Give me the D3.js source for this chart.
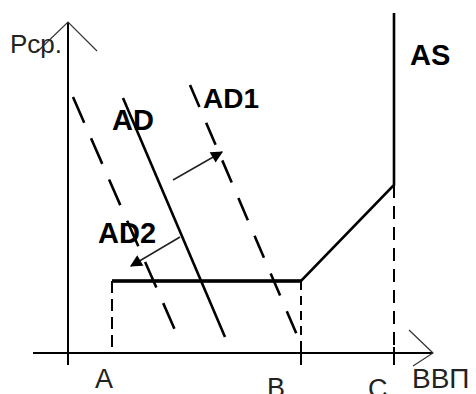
<!DOCTYPE html>
<html>
<head>
<meta charset="utf-8">
<script src="https://cdn.jsdelivr.net/npm/d3@7"></script>
<style>
  body { margin: 0; background: #fff; }
  text { font-family: "Liberation Sans", Arial, sans-serif; }
</style>
</head>
<body>
<svg width="476" height="394"></svg>
<script>
// values, in chart units (origin at the axes crossing)
const xTickNames = ["A", "B", "C"]
const xTickValues = [44, 233, 326]
const priceLevel = 72      // flat part of AS
const kinkPrice = 168      // where AS turns vertical at C
const asTop = 340

const asCurve = [[44, 72], [233, 72], [326, 168], [326, 340]]
const ad = [[55, 255], [157, 16]]
const ad1 = [[122, 268], [229, 18]]
const ad2 = [[5, 256], [110, 16]]
const shiftRight = [[105, 173], [154, 201]]
const shiftLeft = [[112, 116], [63, 87]]

let svg = d3.select("svg")

let x = d3.scaleLinear().domain([0, 365]).range([68, 433])
let y = d3.scaleLinear().domain([0, 340]).range([353, 13])

let line = d3.line().x(d => x(d[0])).y(d => y(d[1]))

svg.append("defs").append("marker")
    .attr("id", "head")
    .attr("viewBox", "0 0 10 10")
    .attr("refX", 9).attr("refY", 5)
    .attr("markerWidth", 15).attr("markerHeight", 12)
    .attr("markerUnits", "userSpaceOnUse")
    .attr("orient", "auto")
    .append("path")
    .attr("d", "M0,0 L10,5 L0,10 z")
    .attr("fill", "#000")

// axes
svg.append("line")
    .attr("x1", x(0)).attr("x2", x(0))
    .attr("y1", y(-12)).attr("y2", y(331))
    .attr("stroke", "#000").attr("stroke-width", 2)
svg.append("line")
    .attr("x1", x(-35)).attr("x2", x(365))
    .attr("y1", y(0)).attr("y2", y(0))
    .attr("stroke", "#000").attr("stroke-width", 2)

// axis arrow arms
svg.append("path")
    .attr("d", line([[-31, 301], [0, 331], [29, 302]]))
    .attr("fill", "none").attr("stroke", "#333").attr("stroke-width", 1.2)
svg.append("path")
    .attr("d", line([[341, 23], [365, 0], [345, -13]]))
    .attr("fill", "none").attr("stroke", "#333").attr("stroke-width", 1.2)

// dashed guides
svg.append("line")
    .attr("x1", x(xTickValues[0])).attr("x2", x(xTickValues[0]))
    .attr("y1", y(priceLevel)).attr("y2", y(0))
    .attr("stroke", "#000").attr("stroke-width", 2)
    .attr("stroke-dasharray", "12,6")
svg.append("line")
    .attr("x1", x(xTickValues[1])).attr("x2", x(xTickValues[1]))
    .attr("y1", y(priceLevel)).attr("y2", y(-12))
    .attr("stroke", "#000").attr("stroke-width", 2)
    .attr("stroke-dasharray", "9,6")
svg.append("line")
    .attr("x1", x(xTickValues[2])).attr("x2", x(xTickValues[2]))
    .attr("y1", y(kinkPrice)).attr("y2", y(-12))
    .attr("stroke", "#000").attr("stroke-width", 2)
    .attr("stroke-dasharray", "13,8")

// AS
svg.append("path")
    .attr("d", line(asCurve))
    .attr("fill", "none").attr("stroke", "#000").attr("stroke-width", 2.6)
svg.append("line")
    .attr("x1", x(asCurve[0][0])).attr("x2", x(asCurve[1][0]))
    .attr("y1", y(priceLevel)).attr("y2", y(priceLevel))
    .attr("stroke", "#000").attr("stroke-width", 3.4)

// AD curves
svg.append("path").attr("d", line(ad))
    .attr("fill", "none").attr("stroke", "#000").attr("stroke-width", 2.6)
svg.append("path").attr("d", line(ad1))
    .attr("fill", "none").attr("stroke", "#000").attr("stroke-width", 2.6)
    .attr("stroke-dasharray", "24,17")
svg.append("path").attr("d", line(ad2))
    .attr("fill", "none").attr("stroke", "#000").attr("stroke-width", 2.6)
    .attr("stroke-dasharray", "28,17")

// shift arrows
svg.append("path").attr("d", line(shiftRight))
    .attr("fill", "none").attr("stroke", "#222").attr("stroke-width", 1.6)
    .attr("marker-end", "url(#head)")
svg.append("path").attr("d", line(shiftLeft))
    .attr("fill", "none").attr("stroke", "#222").attr("stroke-width", 1.6)
    .attr("marker-end", "url(#head)")

// tick marks at B and C
svg.selectAll(".tick").data(xTickValues.slice(1))
    .enter().append("line")
    .attr("x1", d => x(d)).attr("x2", d => x(d))
    .attr("y1", y(6)).attr("y2", y(-12))
    .attr("stroke", "#000").attr("stroke-width", 2)

// tick labels (they sit left of their ticks and the lower two are cut off, as in the original)
const labelDx = [-17, -34, -26]
const labelDy = [35, 44, 45]
svg.selectAll(".tl").data(xTickNames)
    .enter().append("text")
    .attr("x", (d, i) => x(xTickValues[i]) + labelDx[i])
    .attr("y", (d, i) => y(0) + labelDy[i])
    .attr("font-size", 27)
    .attr("fill", "#222")
    .text(d => d)

svg.append("text").attr("x", 412).attr("y", 388)
    .attr("font-size", 28).attr("fill", "#222").text("ВВП")
svg.append("text").attr("x", 10).attr("y", 53)
    .attr("font-size", 26).attr("fill", "#222").text("Рср.")

svg.append("text").attr("x", 410).attr("y", 65)
    .attr("font-size", 29).attr("font-weight", "bold").text("AS")
svg.append("text").attr("x", 112).attr("y", 130)
    .attr("font-size", 29).attr("font-weight", "bold").text("AD")
svg.append("text").attr("x", 203).attr("y", 108)
    .attr("font-size", 28).attr("font-weight", "bold").text("AD1")
svg.append("text").attr("x", 98).attr("y", 243)
    .attr("font-size", 29).attr("font-weight", "bold").text("AD2")
</script>
</body>
</html>
